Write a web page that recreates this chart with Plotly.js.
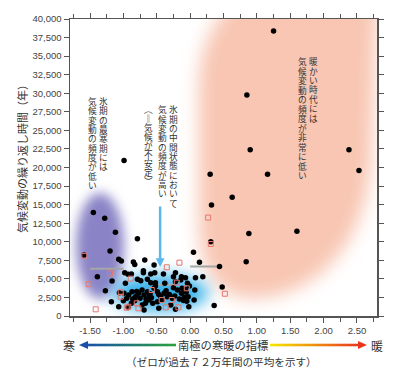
<!DOCTYPE html>
<html><head><meta charset="utf-8">
<script src="https://cdn.plot.ly/plotly-3.0.1.min.js"></script>
<style>html,body{margin:0;padding:0;background:#fff}</style>
</head><body><div id="chart" style="width:408px;height:377px"></div>
<script>
// ---- data ----
const blackX = [1.25,0.85,-0.99,0.90,2.38,0.30,1.16,2.53,0.63,0.32,0.88,1.60,0.31,0.05,0.14,0.84,0.44,-0.07,0.08,0.19,0.07,0.48,0.36,-0.10,-0.05,
  -1.45,-1.28,-1.12,-1.20,-1.59,-1.07,-1.03,-0.85,-0.83,-0.79,-0.98,-1.39,-1.17,-0.79,-1.27,-1.18,-1.07,
  -0.68,-0.54,-0.88,-0.70,-0.59,-0.40,-0.22,-0.13,-0.97,-0.74,-0.59,-0.52,-0.22,-0.01,
  -1.06,-0.99,-0.92,-0.87,-0.82,-0.77,-0.69,-0.64,-0.61,-0.54,-0.49,-0.44,-0.39,-0.34,-0.27,-0.19,-0.13,-0.07,-0.03,0.06,
  -1.00,-0.88,-0.83,-0.72,-0.67,-0.62,-0.56,-0.49,-0.69,-0.29,-0.22,-0.02,-0.93,-0.47,-0.12,-0.04,-0.38,-0.25,-0.14,-0.64,-0.52,-0.93,-0.70,-0.53,
  -0.80,-0.75,-0.66,-0.58,-0.47,-0.36,-0.31,-0.23,-0.16,-0.09,-0.95,-0.86,-0.60,-0.42,-0.72,-0.25,-0.06];
const blackY = [38400,29750,20950,22400,22400,19100,19100,19600,16000,14950,11100,11400,10000,8600,7250,7300,6650,5150,5150,5300,3500,3900,1400,2100,2000,
  13950,13150,11270,8750,8200,7640,7400,7270,6940,10400,5830,5290,4710,4940,3400,1930,1250,
  7540,6870,5660,6100,5660,5660,5830,5290,4400,4760,4490,4040,4620,4040,
  3140,3060,2830,3270,2600,3060,2830,3270,2690,3730,3270,2600,3060,2600,2380,3500,3060,3600,2600,2150,
  2060,1710,2060,1480,1710,2150,1710,1930,810,1480,900,1250,1170,1040,3730,4400,4400,5290,4850,4940,4490,5620,5830,5830,
  3300,2400,2300,2450,2900,3400,2900,2700,2300,2500,2400,2300,3000,2200,3500,3800,3200];
const redX = [-1.585,-1.20,-1.52,-1.415,-0.89,-1.04,-1.04,-0.925,-0.35,-0.16,0.27,0.31,-0.05,0.52,-0.20,-0.80,-0.575,-0.425,-0.275,-0.175,-0.95,-0.365,-0.775];
const redY = [8100,5750,4280,900,5030,3190,2600,1250,6560,7180,13250,9700,3730,3000,4490,1710,3500,2150,2150,1170,1120,1170,1040];
// horizontal gray ranges
const rangeX0 = [-1.50,-0.48,0.00];
const rangeX1 = [-1.00,-0.22,0.48];
const rangeY  = [6350,4200,6650];
const xTickVals = [-1.5,-1,-0.5,0,0.5,1,1.5,2,2.5];
const xTickText = ['-1.50','-1.00','-0.50','0.00','0.50','1.00','1.50','2.00','2.50'];
const yTitle = '気候変動の繰り返し時間（年）';
const noteLeft = ['氷期の最寒期には','気候変動の頻度が低い'];
const noteMid = ['氷期の中間状態において','気候変動の頻度が高い','︵‖気候が不安定︶'];
const noteRight = ['暖かい時代には','気候変動の頻度が非常に低い'];
const axisMid = '南極の寒暖の指標';
const axisCold = '寒', axisWarm = '暖';
const axisSub = '（ゼロが過去７２万年間の平均を示す）';

// ---- layout helpers (pixel -> paper) ----
const L=70, T=19, W=307, H=297;
const px = p => (p-L)/W;
const py = p => (T+H-p)/H;
const JP = '"Noto Sans CJK JP", "Noto Sans", sans-serif';
const annotations = [];
const shapes = [];

function vcol(text, x, top, size, pitch){
  Array.from(text).forEach((c,i)=>{
    annotations.push({xref:'paper',yref:'paper',x:px(x),y:py(top+pitch/2+i*pitch),text:c,showarrow:false,borderpad:0,
      xanchor:'center',yanchor:'middle',font:{family:JP,size:size,color:'#333'}});
  });
}
const VS=8.7;
vcol(noteLeft[0],103,97,VS,9.3); vcol(noteLeft[1],92,97,VS,9.3);
vcol(noteMid[0],173,105,VS,9.35); vcol(noteMid[1],162,105,VS,9.35); vcol(noteMid[2],148,105,VS,9.0);
vcol(noteRight[0],313,57,VS,9.4); vcol(noteRight[1],302,57,VS,9.5);

annotations.push({xref:'paper',yref:'paper',x:px(22),y:py(156),text:yTitle,textangle:-90,showarrow:false,
  xanchor:'center',yanchor:'middle',font:{family:JP,size:11,color:'#333'}});
annotations.push({xref:'paper',yref:'paper',x:px(69),y:py(345),text:axisCold,showarrow:false,xanchor:'center',yanchor:'middle',font:{family:JP,size:12,color:'#333'}});
annotations.push({xref:'paper',yref:'paper',x:px(377),y:py(345),text:axisWarm,showarrow:false,xanchor:'center',yanchor:'middle',font:{family:JP,size:12,color:'#333'}});
annotations.push({xref:'paper',yref:'paper',x:px(222.5),y:py(345),text:axisMid,showarrow:false,xanchor:'center',yanchor:'middle',font:{family:JP,size:11.3,color:'#333'}});
annotations.push({xref:'paper',yref:'paper',x:px(221),y:py(361),text:axisSub,showarrow:false,xanchor:'center',yanchor:'middle',font:{family:JP,size:10.6,color:'#333'}});
// blue arrow
annotations.push({xref:'x',yref:'y',axref:'x',ayref:'y',x:-0.45,y:6600,ax:-0.45,ay:14950,text:'',showarrow:true,
  arrowhead:2,arrowsize:0.7,arrowwidth:2.5,arrowcolor:'#5ab8ec'});

// gradient arrows
function gradLine(x0,x1,y,c0,c1,n){
  for(let i=0;i<n;i++){
    const t=i/(n-1);
    const c=c0.map((v,k)=>Math.round(v+(c1[k]-v)*t));
    const a=x0+(x1-x0)*i/n, b=x0+(x1-x0)*(i+1)/n+0.6;
    shapes.push({type:'line',xref:'paper',yref:'paper',x0:px(a),x1:px(Math.min(b,x1)),y0:py(y),y1:py(y),
      line:{color:`rgb(${c})`,width:2.5}});
  }
}
gradLine(86,176,345,[25,80,170],[40,160,60],40);
gradLine(270,360,345,[245,228,0],[232,55,30],40);
shapes.push({type:'path',xref:'paper',yref:'paper',path:`M${px(79)},${py(345)} L${px(88)},${py(341)} L${px(88)},${py(349)} Z`,fillcolor:'rgb(25,80,170)',line:{width:0}});
shapes.push({type:'path',xref:'paper',yref:'paper',path:`M${px(367)},${py(345)} L${px(358)},${py(341)} L${px(358)},${py(349)} Z`,fillcolor:'rgb(232,55,30)',line:{width:0}});

// soft background blobs
const svg = `<svg xmlns="http://www.w3.org/2000/svg" width="${W}" height="${H}" viewBox="${L} ${T} ${W} ${H}">
<defs>
<filter id="b1" x="-50%" y="-50%" width="200%" height="200%"><feGaussianBlur stdDeviation="9"/></filter>
<filter id="b2" x="-80%" y="-80%" width="260%" height="260%"><feGaussianBlur stdDeviation="6"/></filter>
<filter id="b3" x="-80%" y="-80%" width="260%" height="260%"><feGaussianBlur stdDeviation="8"/></filter>
</defs>
<path d="M255 -20 L378 -20 L372 150 C370 230 330 290 262 298 C215 302 199 270 199 220 L199 85 C199 40 222 5 255 -20 Z" fill="#f8c6b2" filter="url(#b1)"/>
<ellipse cx="100" cy="246" rx="24" ry="53" fill="#8a84c6" filter="url(#b2)"/>
<ellipse cx="160" cy="293" rx="48" ry="18" fill="#34b0ea" filter="url(#b3)"/>
</svg>`;
const imgSrc = 'data:image/svg+xml;base64,' + btoa(svg);

const traces = [];
const gx=[], gy=[];
rangeY.forEach((y,i)=>{gx.push(rangeX0[i],rangeX1[i],null); gy.push(y,y,null);});
traces.push({x:gx,y:gy,mode:'lines',line:{color:'#a6a6a6',width:2},hoverinfo:'skip',showlegend:false});
traces.push({x:blackX,y:blackY,mode:'markers',marker:{color:'#000',size:5.5},showlegend:false});
traces.push({x:redX,y:redY,mode:'markers',marker:{symbol:'square-open',color:'#e8766e',size:5,line:{width:1,color:'#e8766e'}},showlegend:false});

const tickFont = {family:'"Liberation Sans", Arial, sans-serif',size:9.5,color:'#444'};
const layout = {
  width:408,height:377,margin:{l:L,r:408-L-W,t:T,b:377-T-H},
  paper_bgcolor:'#fff',plot_bgcolor:'rgba(0,0,0,0)',showlegend:false,
  xaxis:{range:[-1.8,2.8],tickmode:'array',tickvals:xTickVals,ticktext:xTickText,ticks:'outside',ticklen:5,tickwidth:1,
    tickcolor:'#555',showline:true,linecolor:'#555',linewidth:1.5,mirror:'ticks',showgrid:false,zeroline:false,tickfont:tickFont,
    minor:{dtick:0.25,tick0:0,ticks:'outside',ticklen:4,tickwidth:1,tickcolor:'#555',showgrid:false}},
  yaxis:{range:[0,40000],dtick:2500,tick0:0,tickformat:',',ticks:'outside',ticklen:5,tickwidth:1,tickcolor:'#555',
    showline:true,linecolor:'#555',linewidth:1.5,mirror:'ticks',showgrid:false,zeroline:false,tickfont:tickFont},
  images:[{source:imgSrc,xref:'paper',yref:'paper',x:0,y:1,sizex:1,sizey:1,sizing:'stretch',xanchor:'left',yanchor:'top',layer:'below'}],
  annotations:annotations,shapes:shapes
};
Plotly.newPlot('chart',traces,layout,{staticPlot:true,displayModeBar:false});
</script></body></html>
